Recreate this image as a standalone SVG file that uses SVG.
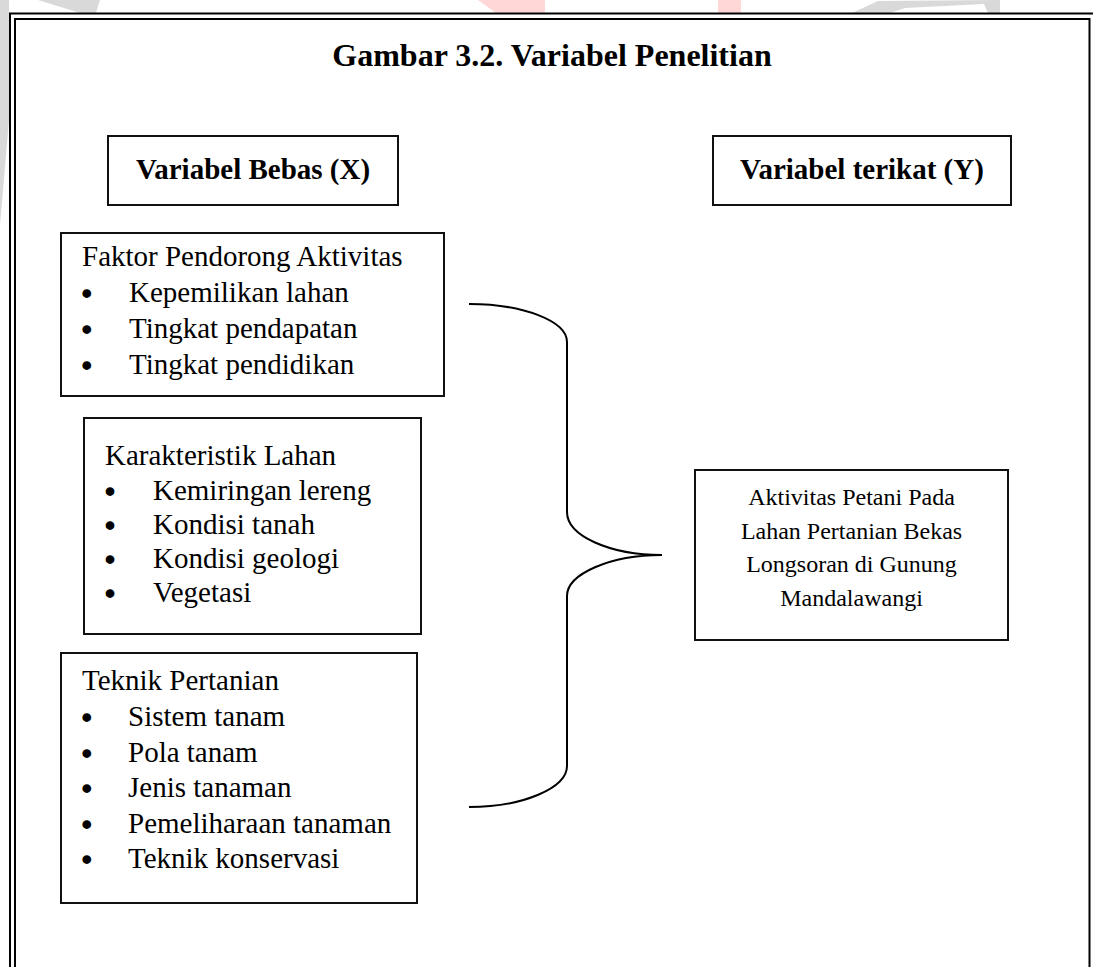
<svg xmlns="http://www.w3.org/2000/svg" width="1093" height="967" viewBox="0 0 1093 967">
  <style>
    .t { font-family: "Liberation Serif", "Times New Roman", serif; font-size: 29px; fill: #000; }
    .b { font-weight: bold; }
    .title { font-size: 32px; font-weight: bold; }
    .bul { font-size: 30px; stroke: #000; stroke-width: 1.6; text-anchor: middle; }
    .sm { font-size: 24px; }
    .box { fill: #fff; stroke: #111; stroke-width: 2; }
    .frame { fill: none; stroke: #000; stroke-width: 2; }
    .wm-g { fill: #d9d9d9; }
    .wm-p { fill: #ffd7d7; }
    .brace { fill: none; stroke: #000; stroke-width: 2; }
    .mid { text-anchor: middle; }
  </style>
  <rect x="0" y="0" width="1093" height="967" fill="#fff"/>
  <g id="watermark">
    <polygon class="wm-g" points="0,0 9,0 9,120 0,225"/>
    <polygon class="wm-g" points="38,0 100,0 96,13 80,13"/>
    <polygon class="wm-p" points="478,0 545,0 545,13 496,13"/>
    <rect class="wm-p" x="718" y="0" width="23" height="13"/>
    <polygon class="wm-g" points="852,13 878,1 1000,0 1000,13 988,13 984,4 905,8 890,13"/>
  </g>
  <g id="frame">
    <rect class="frame" x="10" y="13.5" width="1095" height="1000"/>
    <rect x="15" y="19" width="1074.5" height="1000" fill="#fff" stroke="#000" stroke-width="2"/>
  </g>
  <g id="title">
    <text class="t title mid" x="552" y="66">Gambar 3.2. Variabel Penelitian</text>
  </g>
  <g id="node-var-x">
    <rect class="box" x="108" y="136" width="290" height="69"/>
    <text class="t b mid" x="253" y="179">Variabel Bebas (X)</text>
  </g>
  <g id="node-var-y">
    <rect class="box" x="713" y="136" width="298" height="69"/>
    <text class="t b mid" x="862" y="179">Variabel terikat (Y)</text>
  </g>
  <g id="node-faktor">
    <rect class="box" x="61" y="233" width="383" height="163"/>
    <text class="t" x="82" y="266">Faktor Pendorong Aktivitas</text>
    <text class="t bul" x="86.7" y="304">•</text>
    <text class="t" x="129" y="302">Kepemilikan lahan</text>
    <text class="t bul" x="86.7" y="340">•</text>
    <text class="t" x="129" y="338">Tingkat pendapatan</text>
    <text class="t bul" x="86.7" y="376">•</text>
    <text class="t" x="129" y="374">Tingkat pendidikan</text>
  </g>
  <g id="node-karakteristik">
    <rect class="box" x="84" y="418" width="337" height="216"/>
    <text class="t" x="105" y="465">Karakteristik Lahan</text>
    <text class="t bul" x="110" y="501.5">•</text>
    <text class="t" x="153" y="499.5">Kemiringan lereng</text>
    <text class="t bul" x="110" y="536">•</text>
    <text class="t" x="153" y="534">Kondisi tanah</text>
    <text class="t bul" x="110" y="570">•</text>
    <text class="t" x="153" y="568">Kondisi geologi</text>
    <text class="t bul" x="110" y="604">•</text>
    <text class="t" x="153" y="602">Vegetasi</text>
  </g>
  <g id="node-teknik">
    <rect class="box" x="61" y="653" width="356" height="250"/>
    <text class="t" x="82" y="690">Teknik Pertanian</text>
    <text class="t bul" x="86.7" y="728">•</text>
    <text class="t" x="128" y="726">Sistem tanam</text>
    <text class="t bul" x="86.7" y="763.5">•</text>
    <text class="t" x="128" y="761.5">Pola tanam</text>
    <text class="t bul" x="86.7" y="799">•</text>
    <text class="t" x="128" y="797">Jenis tanaman</text>
    <text class="t bul" x="86.7" y="834.5">•</text>
    <text class="t" x="128" y="832.5">Pemeliharaan tanaman</text>
    <text class="t bul" x="86.7" y="870">•</text>
    <text class="t" x="128" y="868">Teknik konservasi</text>
  </g>
  <g id="node-aktivitas">
    <rect class="box" x="695" y="470" width="313" height="170"/>
    <text class="t sm mid" x="851.5" y="505">Aktivitas Petani Pada</text>
    <text class="t sm mid" x="851.5" y="538.5">Lahan Pertanian Bekas</text>
    <text class="t sm mid" x="851.5" y="572">Longsoran di Gunung</text>
    <text class="t sm mid" x="851.5" y="605.5">Mandalawangi</text>
  </g>
  <g id="connectors">
    <path class="brace" d="M469,304 C523,304 567,321 567,342 L567,512 C567,536 610,555 662,555 C610,555 567,574 567,596 L567,766 C567,788 523,807 469,807"/>
  </g>
</svg>
